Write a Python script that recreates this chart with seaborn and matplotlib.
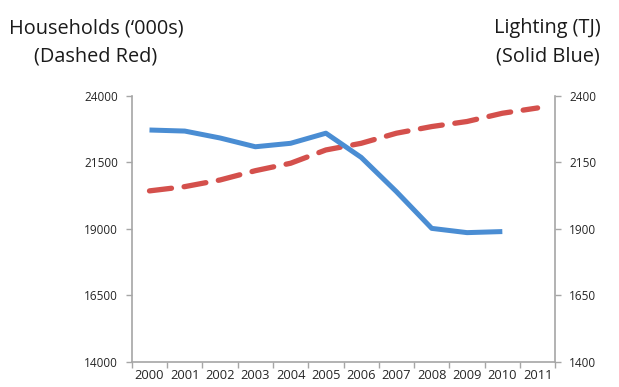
import matplotlib
matplotlib.use("Agg")
import matplotlib.pyplot as plt
import seaborn as sns
import numpy as np
import pandas as pd

years = [2000, 2001, 2002, 2003, 2004, 2005, 2006, 2007, 2008, 2009, 2010, 2011]
households = [20430, 20590, 20840, 21190, 21470, 21970, 22220, 22600, 22850, 23040, 23350, 23550]
lighting_years = [2000, 2001, 2002, 2003, 2004, 2005, 2006, 2007, 2008, 2009, 2010]
lighting = [2272, 2268, 2242, 2209, 2222, 2260, 2169, 2040, 1902, 1886, 1890]

left_ticks = [14000, 16500, 19000, 21500, 24000]
right_ticks = [1400, 1650, 1900, 2150, 2400]

sns.set_theme(style="white")
plt.rcParams["font.family"] = ["Open Sans", "DejaVu Sans"]

red = "#D4504C"
blue = "#4A8DD3"
axis_grey = "#A6A6A6"
text_col = "#262626"

fig = plt.figure(figsize=(6.19, 3.87), dpi=100)
ax = fig.add_axes([0.213, 0.065, 0.684, 0.687])
ax2 = ax.twinx()

df_h = pd.DataFrame({"year": years, "households": households})
df_l = pd.DataFrame({"year": lighting_years, "lighting": lighting})

sns.lineplot(data=df_h, x="year", y="households", ax=ax, color=red, linewidth=3.8)
ax.lines[0].set_dashes([4.2, 2.4])
ax.lines[0].set_dash_capstyle("round")
sns.lineplot(data=df_l, x="year", y="lighting", ax=ax2, color=blue, linewidth=3.6)
ax2.lines[0].set_solid_capstyle("butt")

ax.set_ylim(14000, 24000)
ax2.set_ylim(1400, 2400)
ax.set_xlim(years[0] - 0.5, years[-1] + 0.5)

ax.set_yticks(left_ticks)
ax.set_yticklabels([str(v) for v in left_ticks])
ax2.set_yticks(right_ticks)
ax2.set_yticklabels([str(v) for v in right_ticks])
ax.set_xticks(years)
ax.set_xticklabels([str(y) for y in years])
ax.set_xticks(np.arange(years[0] - 0.5, years[-1] + 1.0, 1.0), minor=True)

for a in (ax, ax2):
    a.set_xlabel("")
    a.set_ylabel("")
    a.grid(False)
    a.spines["top"].set_visible(False)
    for side in ("left", "right", "bottom"):
        a.spines[side].set_color(axis_grey)
        a.spines[side].set_linewidth(1.2)

ax.spines["right"].set_visible(False)
ax2.spines["left"].set_visible(False)
ax2.spines["bottom"].set_visible(False)

ax.tick_params(axis="y", which="major", direction="out", length=4, width=1, color=axis_grey,
               labelsize=8.5, labelcolor=text_col, pad=6, left=True)
ax2.tick_params(axis="y", which="major", direction="out", length=4, width=1, color=axis_grey,
                labelsize=8.5, labelcolor=text_col, pad=6, right=True)
ax.tick_params(axis="x", which="major", length=0, labelsize=9.3, labelcolor=text_col, pad=5)
ax.tick_params(axis="x", which="minor", direction="out", length=4, width=1, color=axis_grey, bottom=True)

fig.text(0.155, 0.89, "Households (\u2018000s)\n(Dashed Red)", ha="center", va="center",
         fontsize=14.3, color="#1a1a1a", linespacing=1.55)
fig.text(0.885, 0.89, "Lighting (TJ)\n(Solid Blue)", ha="center", va="center",
         fontsize=14.3, color="#1a1a1a", linespacing=1.55)

fig.savefig("out.png", dpi=100, facecolor="white")
